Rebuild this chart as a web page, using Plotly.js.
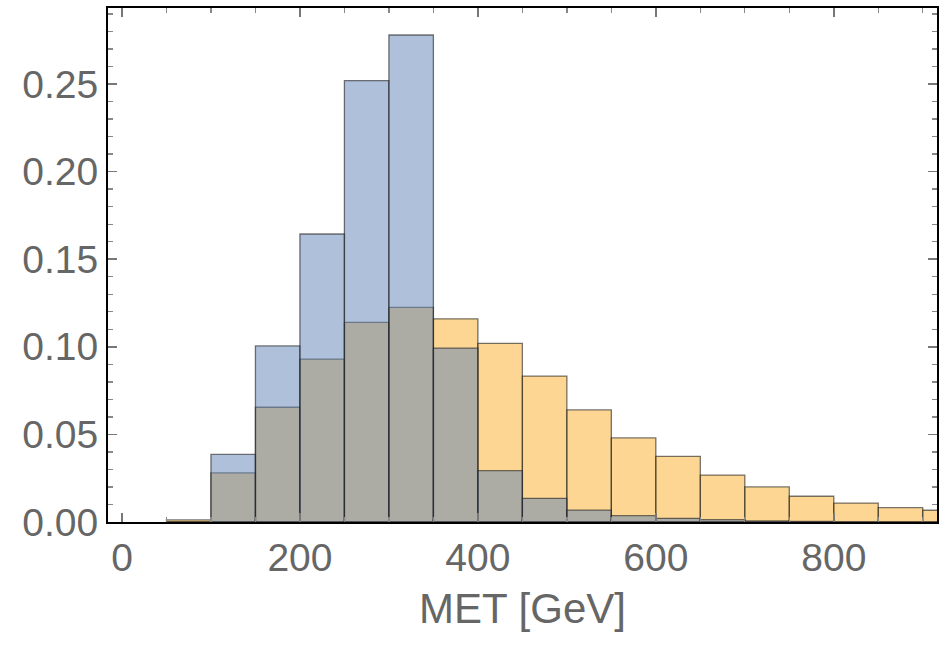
<!DOCTYPE html>
<html>
<head>
<meta charset="utf-8">
<script src="https://cdn.plot.ly/plotly-3.0.1.min.js"></script>
<style>html,body{margin:0;padding:0;background:#fff;}#chart{width:939px;height:646px;}</style>
</head>
<body>
<div id="chart"></div>
<script>
// Bin centers (bin width 50 GeV)
const binCenters = [75, 125, 175, 225, 275, 325, 375, 425, 475, 525, 575, 625, 675, 725, 775, 825, 875, 925];
const orangeValues = [0.0012, 0.028, 0.0655, 0.093, 0.114, 0.1225, 0.116, 0.102, 0.0833, 0.064, 0.048, 0.0375, 0.0268, 0.020, 0.0147, 0.0108, 0.0082, 0.0067];
const blueValues = [0, 0.0386, 0.1005, 0.1644, 0.252, 0.278, 0.0993, 0.0293, 0.0135, 0.0068, 0.0036, 0.0021, 0.0013, 0.0006, 0.0003, 0.0001, 0, 0];
const xTickVals = [0, 200, 400, 600, 800];
const yTickVals = [0, 0.05, 0.10, 0.15, 0.20, 0.25];

const edge = {color: 'rgba(30,30,30,0.6)', width: 1.3};
const traces = [
  {type: 'bar', x: binCenters, y: orangeValues, width: 50,
   marker: {color: 'rgba(249,173,37,0.5)', line: edge}, hoverinfo: 'x+y'},
  {type: 'bar', x: binCenters, y: blueValues, width: 50,
   marker: {color: 'rgba(93,129,181,0.5)', line: edge}, hoverinfo: 'x+y'}
];
const tickFont = {family: 'Liberation Sans, Arial, sans-serif', size: 39, color: '#666666'};
const titleFont = {family: 'Liberation Sans, Arial, sans-serif', size: 42, color: '#666666'};
const layout = {
  width: 939, height: 646,
  margin: {l: 108, r: 2, t: 8, b: 124},
  barmode: 'overlay', bargap: 0,
  showlegend: false,
  plot_bgcolor: '#ffffff', paper_bgcolor: '#ffffff',
  xaxis: {
    range: [-15.7, 916], tickvals: xTickVals, ticktext: xTickVals.map(String),
    ticks: 'inside', ticklen: 9, tickwidth: 1.5, tickcolor: '#777777',
    minor: {dtick: 50, tick0: 0, ticks: 'inside', ticklen: 5, tickwidth: 1.3, tickcolor: '#888888'},
    showline: true, linecolor: '#000000', linewidth: 2, mirror: 'allticks',
    showgrid: false, zeroline: false, tickfont: tickFont,
    title: {text: 'MET [GeV]', font: titleFont, standoff: 16}
  },
  yaxis: {
    range: [0, 0.2934], tickvals: yTickVals, ticktext: yTickVals.map(v => v.toFixed(2)),
    ticks: 'inside', ticklen: 9, tickwidth: 1.5, tickcolor: '#777777',
    minor: {dtick: 0.01, tick0: 0, ticks: 'inside', ticklen: 5, tickwidth: 1.3, tickcolor: '#888888'},
    showline: true, linecolor: '#000000', linewidth: 2, mirror: 'allticks',
    showgrid: false, zeroline: false, tickfont: tickFont
  }
};
Plotly.newPlot('chart', traces, layout, {displayModeBar: false, staticPlot: true});
</script>
</body>
</html>
